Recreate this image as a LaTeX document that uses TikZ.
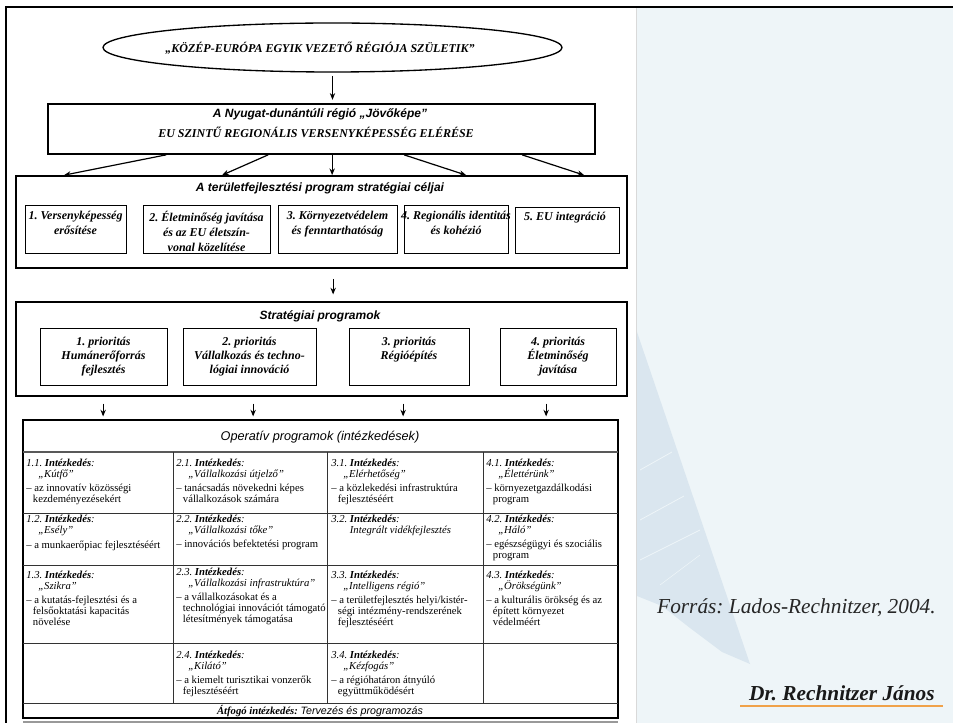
\documentclass[tikz,border=0pt]{standalone}
\usepackage{fontspec}
\setmainfont{Liberation Serif}
\setsansfont{Liberation Sans}
\usetikzlibrary{shapes.geometric,arrows.meta,fit,calc}
\frenchspacing
\definecolor{panel}{HTML}{EEF5F8}
\definecolor{sail}{HTML}{DAE6EF}
\definecolor{orng}{HTML}{F0A24A}
\newcommand\hd[1]{\textit{#1 \textbf{Intézkedés}:}}
\newcommand\nm[1]{\hspace*{9pt}\textit{#1}}
\newcommand\cn{\hspace*{5pt}}
\tikzset{
  bl/.style={draw, line width=1.3pt, inner sep=0pt},
  ib/.style={draw, line width=0.7pt, inner sep=0pt},
  arr/.style={-{Stealth[length=5pt,width=4pt]}, line width=0.9pt},
  ttl/.style={font=\sffamily\bfseries\itshape\fontsize{9}{11}\selectfont, inner sep=0pt},
  gtx/.style={font=\bfseries\itshape\fontsize{9}{11.25}\selectfont, align=center, inner sep=0pt, anchor=north},
  ptx/.style={font=\bfseries\itshape\fontsize{9}{10.5}\selectfont, align=center, inner sep=0pt, anchor=north},
  cell/.style={font=\fontsize{8}{8.2}\selectfont, align=left, inner sep=0pt, anchor=north west},
  grid/.style={line width=0.6pt, black!80},
}
\begin{document}
\begin{tikzpicture}[x=0.75pt,y=-0.75pt]
\useasboundingbox (0,0) rectangle (953,723);
\fill[white] (0,0) rectangle (953,723);
% right panel
\fill[panel] (636,8) rectangle (953,723);
\draw[black!15, line width=0.5pt] (636,8) -- (636,723);
\fill[sail] (637,332) -- (750,664) -- (722,652) -- (690,628) -- (662,606) -- (637,596) -- cycle;
\draw[panel, line width=0.6pt] (640,470) -- (672,452);
\draw[panel, line width=0.6pt] (640,520) -- (684,496);
\draw[panel, line width=0.6pt] (640,560) -- (700,530);
\draw[panel, line width=0.4pt] (660,585) -- (700,555);
% frame
\draw[line width=2pt] (6,723) -- (6,7) -- (953,7);

% ellipse
\node[draw, ellipse, minimum width=344.25pt, minimum height=36.75pt, line width=1pt, inner sep=0pt] (ell) at (332.5,47.5) {};
\node[font=\bfseries\itshape\fontsize{9}{11}\selectfont, inner sep=0pt] (ellt) at (320,48) {„KÖZÉP-EURÓPA EGYIK VEZETŐ RÉGIÓJA SZÜLETIK”};

% vision box
\node[bl, fit={(48,104)(595,154)}] (jov) {};
\node[ttl] (jovt) at (320,114) {A Nyugat-dunántúli régió „Jövőképe”};
\node[font=\bfseries\itshape\fontsize{9}{11}\selectfont, inner sep=0pt] (eut) at (316,132) {EU SZINTŰ REGIONÁLIS VERSENYKÉPESSÉG ELÉRÉSE};

% goals box
\node[bl, fit={(16,176)(627,268)}] (goals) {};
\node[ttl] (goalt) at (320,188) {A területfejlesztési program stratégiai céljai};
\node[ib, fit={(25,205)(126,253)}] (g1) {};
\node[ib, fit={(143,205)(270,253)}] (g2) {};
\node[ib, fit={(278,205)(397,253)}] (g3) {};
\node[ib, fit={(404,205)(508,253)}] (g4) {};
\node[ib, fit={(515,207)(619,253)}] (g5) {};
\node[gtx] (g1t) at (75.5,211) {1. Versenyképesség\\erősítése};
\node[gtx] (g2t) at (206.5,211) {2. Életminőség javítása\\és az EU életszín-\\vonal közelítése};
\node[gtx] (g3t) at (337.5,211) {3. Környezetvédelem\\és fenntarthatóság};
\node[gtx] (g4t) at (456,211) {4. Regionális identitás\\és kohézió};
\node[gtx] (g5t) at (565,212) {5. EU integráció};

% strategic programs
\node[bl, fit={(16,302)(627,396)}] (strat) {};
\node[ttl] (stratt) at (320,316) {Stratégiai programok};
\node[ib, fit={(40,328)(167,385)}] (p1) {};
\node[ib, fit={(183,328)(316,385)}] (p2) {};
\node[ib, fit={(349,328)(469,385)}] (p3) {};
\node[ib, fit={(500,328)(616,385)}] (p4) {};
\node[ptx] (p1t) at (103.5,337) {1. prioritás\\Humánerőforrás\\fejlesztés};
\node[ptx] (p2t) at (249.5,337) {2. prioritás\\Vállalkozás és techno-\\lógiai innováció};
\node[ptx] (p3t) at (409,337) {3. prioritás\\Régióépítés};
\node[ptx] (p4t) at (558,337) {4. prioritás\\Életminőség\\javítása};

% operative table
\node[draw, line width=1.3pt, inner sep=0pt, fit={(23,420)(618,718)}] (tab) {};
\node[font=\sffamily\itshape\fontsize{9.5}{11}\selectfont, inner sep=0pt] (tabt) at (320,437) {Operatív programok (intézkedések)};
\draw[black!65, line width=1.4pt] (23,452) -- (618,452);
\draw[grid] (23,513) -- (618,513);
\draw[grid] (23,565) -- (618,565);
\draw[grid] (23,643) -- (618,643);
\draw[grid] (23,703) -- (618,703);
\draw[grid] (173,452) -- (173,703);
\draw[grid] (327,452) -- (327,703);
\draw[grid] (483,452) -- (483,703);
\draw[black!40, line width=0.8pt] (23,722) -- (618,722);

\node[cell] (c11) at (26,459) {\hd{1.1.}\\ \nm{„Kútfő”}\\[2pt] – az innovatív közösségi\\ \cn kezdeményezésekért};
\node[cell] (c12) at (26,515) {\hd{1.2.}\\ \nm{„Esély”}\\[3pt] – a munkaerőpiac fejlesztéséért};
\node[cell] (c13) at (26,571) {\hd{1.3.}\\ \nm{„Szikra”}\\[2pt] – a kutatás-fejlesztési és a\\ \cn felsőoktatási kapacitás\\ \cn növelése};
\node[cell] (c21) at (176,459) {\hd{2.1.}\\ \nm{„Vállalkozási útjelző”}\\[2pt] – tanácsadás növekedni képes\\ \cn vállalkozások számára};
\node[cell] (c22) at (176,515) {\hd{2.2.}\\ \nm{„Vállalkozási tőke”}\\[2pt] – innovációs befektetési program};
\node[cell] (c23) at (176,568) {\hd{2.3.}\\ \nm{„Vállalkozási infrastruktúra”}\\[2pt] – a vállalkozásokat és a\\ \cn technológiai innovációt támogató\\ \cn létesítmények támogatása};
\node[cell] (c24) at (176,651) {\hd{2.4.}\\ \nm{„Kilátó”}\\[2pt] – a kiemelt turisztikai vonzerők\\ \cn fejlesztéséért};
\node[cell] (c31) at (331,459) {\hd{3.1.}\\ \nm{„Elérhetőség”}\\[2pt] – a közlekedési infrastruktúra\\ \cn fejlesztéséért};
\node[cell] (c32) at (331,515) {\hd{3.2.}\\ \hspace*{14pt}\textit{Integrált vidékfejlesztés}};
\node[cell] (c33) at (331,571) {\hd{3.3.}\\ \nm{„Intelligens régió”}\\[2pt] – a területfejlesztés helyi/kistér-\\ \cn ségi intézmény-rendszerének\\ \cn fejlesztéséért};
\node[cell] (c34) at (331,651) {\hd{3.4.}\\ \nm{„Kézfogás”}\\[2pt] – a régióhatáron átnyúló\\ \cn együttműködésért};
\node[cell] (c41) at (486,459) {\hd{4.1.}\\ \nm{„Élettérünk”}\\[2pt] – környezetgazdálkodási\\ \cn program};
\node[cell] (c42) at (486,515) {\hd{4.2.}\\ \nm{„Háló”}\\[2pt] – egészségügyi és szociális\\ \cn program};
\node[cell] (c43) at (486,571) {\hd{4.3.}\\ \nm{„Örökségünk”}\\[2pt] – a kulturális örökség és az\\ \cn épített környezet\\ \cn védelméért};
\node[font=\fontsize{8}{9}\selectfont, inner sep=0pt] (atf) at (320,711) {\textbf{\textit{Átfogó intézkedés:}} \sffamily\itshape Tervezés és programozás};

% connectors
\draw[arr, shorten <=2.5pt, shorten >=2.5pt] (ell.south) -- (ell.south |- jov.north);
\foreach \s/\e in {119/49, 221/207, 285/317, 357/451, 475/569}
  \draw[arr] ($(jov.south west)+(\s,0)$) -- ($(goals.north west)+(\e,0)$);
\draw[arr, shorten <=7.5pt, shorten >=5pt] ($(goals.south west)+(318,0)$) -- ($(strat.north west)+(318,0)$);
\foreach \s/\e in {88/81, 238/231, 388/381, 531/524}
  \draw[arr, shorten <=5pt, shorten >=2pt] ($(strat.south west)+(\s,0)$) -- ($(tab.north west)+(\e,0)$);

% source and author
\node[font=\itshape\fontsize{16}{19}\selectfont, text=black!85, anchor=east, inner sep=0pt] (src) at (936,608) {Forrás: Lados-Rechnitzer, 2004.};
\node[font=\bfseries\itshape\fontsize{16}{19}\selectfont, text=black!90, anchor=east, inner sep=0pt] (auth) at (935,693) {Dr. Rechnitzer János};
\coordinate (ul1) at (740,706);
\coordinate (ul2) at (943,706);
\draw[orng, line width=2pt] (ul1) -- (ul2);
\end{tikzpicture}
\end{document}
